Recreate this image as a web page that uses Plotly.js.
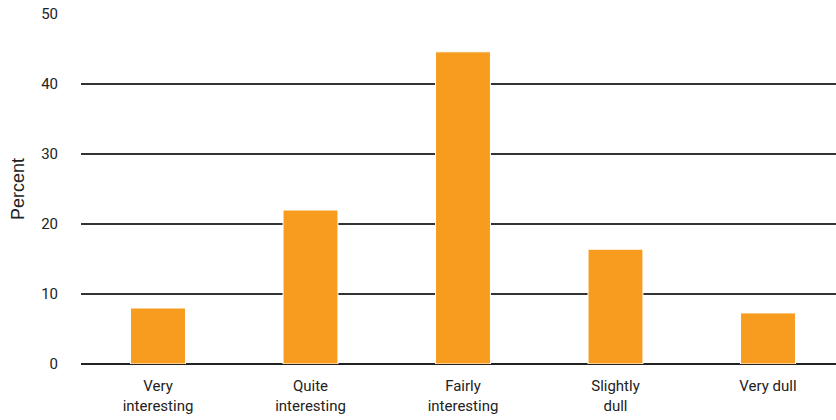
<!DOCTYPE html>
<html><head><meta charset="utf-8">
<script src="https://cdn.plot.ly/plotly-3.0.1.min.js"></script>
<style>html,body{margin:0;padding:0;background:#fff}#chart{width:836px;height:420px}</style>
</head><body><div id="chart"></div>
<script>
const categories = ["Very<br>interesting", "Quite<br>interesting", "Fairly<br>interesting", "Slightly<br>dull", "Very dull"];
const percent = [8.0, 22.0, 44.6, 16.4, 7.3];
const yTicks = [0, 10, 20, 30, 40, 50];

Plotly.newPlot('chart', [{
  type: 'bar', x: categories, y: percent,
  marker: {color: '#f79c1f', line: {color: '#ffffff', width: 1}},
  hoverinfo: 'skip'
}], {
  width: 836, height: 420,
  margin: {l: 81, r: 0, t: 14, b: 56},
  paper_bgcolor: '#fff', plot_bgcolor: '#fff',
  bargap: 0.64,
  font: {family: 'Roboto, sans-serif', size: 15, color: '#222'},
  xaxis: {tickfont: {size: 15, color: '#222'}, showgrid: false, showline: false, ticks: '',
          ticklabelstandoff: 11, range: [-0.505, 4.446]},
  yaxis: {range: [0, 50], tickvals: yTicks, showgrid: true, gridcolor: '#333', gridwidth: 1.3,
          zeroline: true, zerolinecolor: '#222', zerolinewidth: 1.3, showline: false,
          ticks: '', ticklabelstandoff: 22, tickfont: {size: 15, color: '#222'},
          title: {text: 'Percent', font: {family: 'Liberation Sans, Arial, sans-serif', size: 18, color: '#222'}, standoff: 11}},
  showlegend: false
}, {displayModeBar: false, staticPlot: true});
</script></body></html>
